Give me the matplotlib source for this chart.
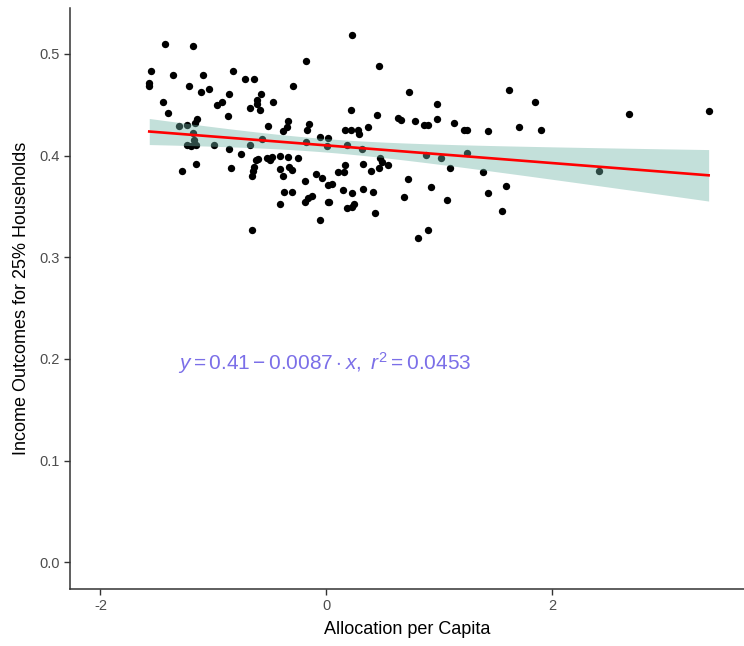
import numpy as np
import matplotlib as mpl

mpl.use("Agg")
import matplotlib.pyplot as plt

plt.rcParams["font.family"] = ["Liberation Sans", "DejaVu Sans"]
plt.rcParams["axes.unicode_minus"] = False
plt.rcParams["mathtext.fontset"] = "custom"
plt.rcParams["mathtext.rm"] = "Liberation Sans"
plt.rcParams["mathtext.it"] = "Liberation Sans:italic"
plt.rcParams["mathtext.bf"] = "Liberation Sans:bold"

# allocation per capita (standardised) and income outcome share
alloc = [
    -1.432, -1.184, -1.556, -1.356, -1.096, -0.825, -0.181, -1.568, -1.568, -1.219,
    -1.111, -1.037, -0.724, -0.639, -0.860, -0.577, -0.294, -1.444, -1.405, -0.972,
    -0.927, -0.618, -0.612, -0.677, -0.588, -0.476, -0.874, -1.143, -1.164, -1.305,
    -1.232, -1.184, -0.515, -0.338, -0.347, -0.382, -0.155, -0.175, -0.058, 0.016,
    -1.170, -0.573, -0.184, 0.007, -1.232, -1.199, -1.158, -0.996, -0.677, -0.860,
    -0.759, -0.624, -0.604, -0.639, -0.529, -0.500, -0.485, -0.412, -0.338, -0.255,
    -1.155, -1.281, -0.848, -0.648, -0.414, -0.335, -0.308, -0.662, -0.388, -0.093,
    -0.042, -0.193, 0.016, -0.379, -0.303, -0.131, -0.161, -0.193, 0.011, -0.414,
    -0.058, -0.662, 0.228, 0.462, 0.733, 1.612, 0.981, 0.217, 0.450, 0.635,
    0.662, 0.786, 0.863, 0.901, 0.981, 1.131, 1.217, 1.243, 1.427, 1.704,
    0.164, 0.217, 0.276, 0.290, 0.365, 0.179, 0.314, 0.881, 1.011, 1.243,
    0.476, 0.491, 0.462, 0.547, 0.164, 0.155, 0.104, 0.326, 0.391, 1.093,
    1.388, 0.046, 0.143, 0.228, 0.326, 0.414, 0.721, 0.922, 1.429, 1.588,
    0.022, 0.179, 0.223, 0.243, 0.427, 0.686, 1.066, 1.550, 0.896, 0.807,
    1.848, 1.898, 2.677, 3.382, 2.414,
]
income = [
    0.510, 0.508, 0.483, 0.479, 0.479, 0.483, 0.493, 0.471, 0.468, 0.468,
    0.462, 0.465, 0.475, 0.475, 0.461, 0.461, 0.468, 0.453, 0.442, 0.450,
    0.453, 0.455, 0.451, 0.447, 0.445, 0.453, 0.439, 0.436, 0.432, 0.429,
    0.430, 0.422, 0.429, 0.434, 0.428, 0.424, 0.431, 0.425, 0.418, 0.417,
    0.415, 0.416, 0.413, 0.409, 0.410, 0.409, 0.410, 0.410, 0.410, 0.406,
    0.402, 0.396, 0.397, 0.389, 0.398, 0.396, 0.399, 0.400, 0.399, 0.398,
    0.392, 0.385, 0.388, 0.385, 0.387, 0.389, 0.386, 0.380, 0.380, 0.382,
    0.378, 0.375, 0.371, 0.364, 0.364, 0.360, 0.358, 0.354, 0.354, 0.352,
    0.337, 0.327, 0.519, 0.488, 0.462, 0.464, 0.451, 0.445, 0.440, 0.437,
    0.435, 0.434, 0.430, 0.430, 0.436, 0.432, 0.425, 0.425, 0.424, 0.428,
    0.425, 0.425, 0.425, 0.421, 0.428, 0.410, 0.406, 0.401, 0.398, 0.403,
    0.398, 0.394, 0.388, 0.391, 0.391, 0.384, 0.384, 0.392, 0.385, 0.388,
    0.384, 0.372, 0.366, 0.363, 0.367, 0.364, 0.377, 0.369, 0.363, 0.370,
    0.354, 0.348, 0.349, 0.352, 0.344, 0.359, 0.356, 0.345, 0.327, 0.319,
    0.453, 0.425, 0.441, 0.444, 0.385,
]

# reported regression fit
intercept = 0.41
slope = -0.0087
r2 = 0.0453

x = np.array(alloc)
y = np.array(income)
n = len(x)

# linear fit with 95% confidence band
xs = np.linspace(x.min(), x.max(), 80)
fit = intercept + slope * xs
resid = y - (intercept + slope * x)
s = np.sqrt(np.sum(resid ** 2) / (n - 2))
sxx = np.sum((x - x.mean()) ** 2)
se = s * np.sqrt(1 / n + (xs - x.mean()) ** 2 / sxx)
band = 1.977 * se

fig = plt.figure(figsize=(7.44, 6.46), dpi=100)
ax = fig.add_axes([0.094, 0.088, 0.906, 0.8995])

ax.scatter(x, y, s=28, color="black", linewidths=0, zorder=2)
ax.fill_between(xs, fit - band, fit + band, color="#6fb4a6", alpha=0.41,
                linewidth=0, zorder=3)
ax.plot(xs, fit, color="#ff0000", linewidth=1.9, zorder=4)

eq = r"$y = 0.41 - 0.0087 \cdot x,\ r^2 = %.4f$" % r2
ax.text(-1.31, 0.196, eq, color="#7b6fe8", fontsize=15, va="center",
        ha="left")

ax.set_xlim(-2.27, 3.695)
ax.set_ylim(-0.0263, 0.545)
ax.set_xticks([-2, 0, 2])
ax.set_yticks([0.0, 0.1, 0.2, 0.3, 0.4, 0.5])
ax.set_yticklabels(["0.0", "0.1", "0.2", "0.3", "0.4", "0.5"])

for side in ["top", "right"]:
    ax.spines[side].set_visible(False)
for side in ["left", "bottom"]:
    ax.spines[side].set_color("#333333")
    ax.spines[side].set_linewidth(1.1)

ax.tick_params(axis="both", colors="#333333", length=4, width=1.0,
               labelsize=10.5, labelcolor="#4d4d4d", pad=3)

ax.set_xlabel("Allocation per Capita", fontsize=13, color="black", labelpad=6)
ax.set_ylabel("Income Outcomes for 25% Households", fontsize=13,
              color="black", labelpad=7)

fig.savefig("out.png", dpi=100)
